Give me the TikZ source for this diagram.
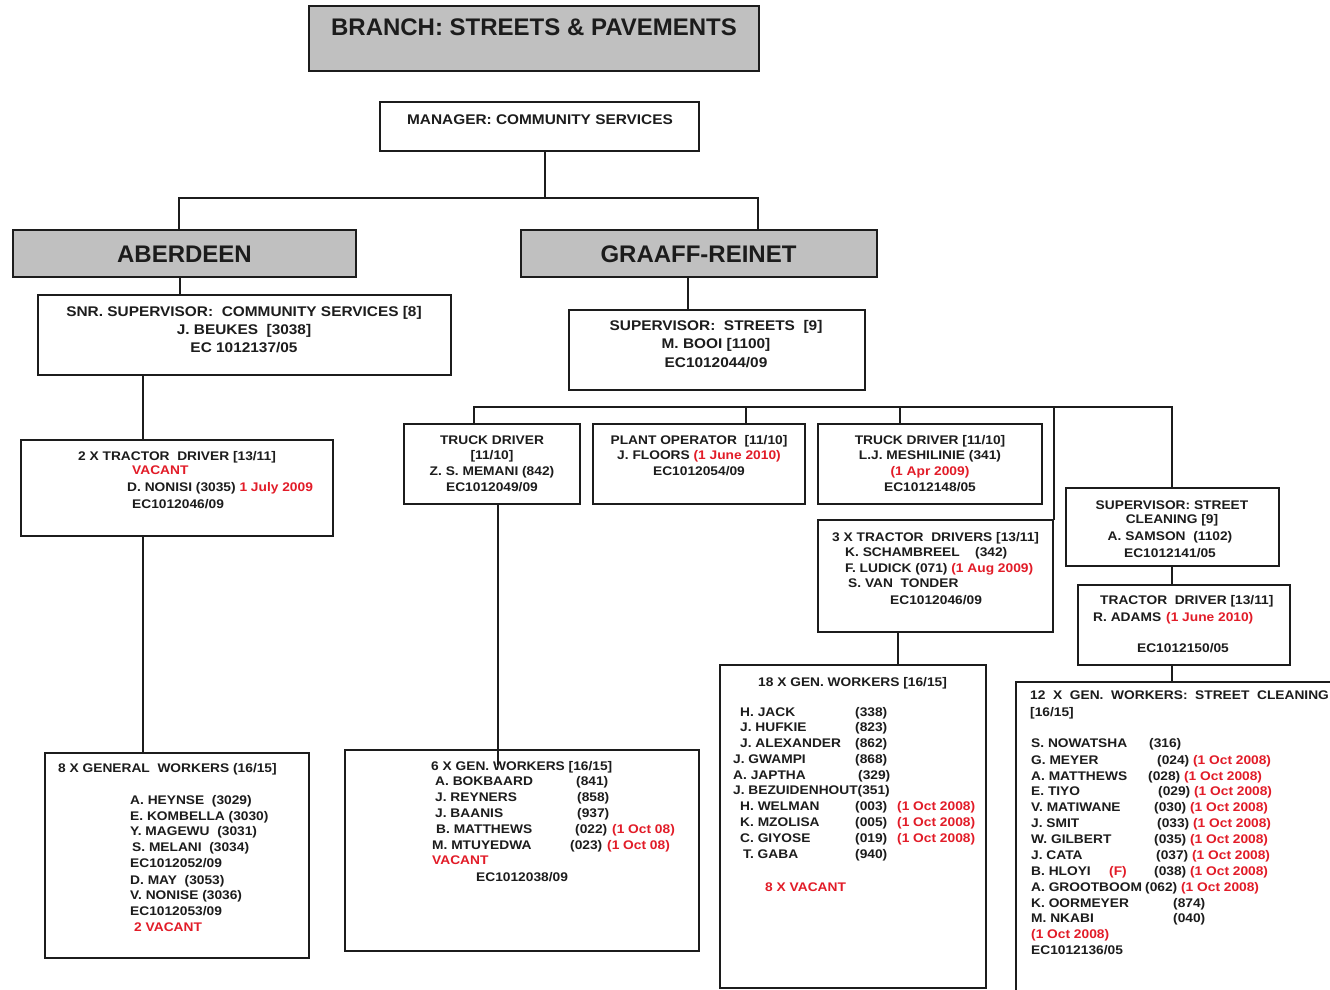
\documentclass[tikz,border=0pt]{standalone}
\usepackage{fontspec}
\setmainfont{Liberation Sans}
\newfontfamily\boxfont{Liberation Sans}[FakeStretch=1.1]
\definecolor{vred}{RGB}{226,28,40}
\definecolor{ink}{RGB}{28,28,28}
\definecolor{panel}{RGB}{192,192,192}

\tikzset{
  box/.style={draw=ink, line width=1.8pt, fill=white, inner sep=0pt, outer sep=0pt},
  headbox/.style={box, fill=panel},
  link/.style={draw=ink, line width=1.8pt},
  txt/.style={inner sep=0pt, anchor=base west, text=ink,
    font=\boxfont\bfseries\fontsize{12.5}{14}\selectfont},
  txtc/.style={txt, anchor=base},
  midtxt/.style={inner sep=0pt, anchor=base, text=ink,
    font=\boxfont\bfseries\fontsize{14}{16}\selectfont},
  bigtxt/.style={inner sep=0pt, anchor=base, text=ink,
    font=\bfseries\fontsize{24}{28}\selectfont},
}

% box from corner (x1,y1) to (x2,y2), y growing downwards
\newcommand\bx[6][box]{\node[#1, minimum width={#5-#3}, minimum height={#6-#4}]
  (#2) at ({(#3+#5)/2},{(#4+#6)/2}) {};}
% text lines: name, x, y of the line's middle, text
\newcommand\tx[4]{\node[txt] (#1) at (#2,{#3+4.5}) {#4};}
\newcommand\tc[4]{\node[txtc] (#1) at (#2,{#3+4.5}) {#4};}
\newcommand\tm[4]{\node[midtxt] (#1) at (#2,{#3+5}) {#4};}
\newcommand\redt[1]{\textcolor{vred}{#1}}
\newcommand\colw[2]{\makebox[#1pt][l]{#2}}

\begin{document}
\begin{tikzpicture}[x=1pt,y=-1pt]
\useasboundingbox (0,0) rectangle (1330,990);
\fill[white] (0,0) rectangle (1330,990);
\clip (0,0) rectangle (1330,990);

% ---------- boxes ----------
\bx[headbox]{title}{309}{6}{759}{71}
\bx{mgr}{380}{102}{699}{151}
\bx[headbox]{aber}{13}{230}{356}{277}
\bx[headbox]{graaff}{521}{230}{877}{277}
\bx{snr}{38}{295}{451}{375}
\bx{sup}{569}{310}{865}{390}
\bx{trA}{21}{440}{333}{536}
\bx{genA}{45}{753}{309}{958}
\bx{truckA}{404}{424}{580}{504}
\bx{plant}{593}{424}{805}{504}
\bx{truckB}{818}{424}{1042}{504}
\bx{trB}{818}{520}{1053}{632}
\bx{supSC}{1066}{488}{1279}{566}
\bx{trSC}{1078}{585}{1290}{665}
\bx{genB}{345}{750}{699}{951}
\bx{genC}{720}{665}{986}{988}
\bx{genSC}{1016}{682}{1360}{1010}

% ---------- connector end points on the boxes ----------
\coordinate (mgrB) at (545,151);
\coordinate (j1) at (545,198);
\coordinate (aberT) at (179,230);
\coordinate (graaffT) at (758,230);
\coordinate (aberB) at (180,277);
\coordinate (snrT) at (180,295);
\coordinate (graaffB) at (688,277);
\coordinate (supT) at (688,310);
\coordinate (snrB) at (143,375);
\coordinate (trAT) at (143,440);
\coordinate (trAB) at (143,536);
\coordinate (genAT) at (143,753);
\coordinate (truckAT) at (474,424);
\coordinate (barR) at (1172,407);
\coordinate (supSCT) at (1172,488);
\coordinate (barP) at (746,407);
\coordinate (plantT) at (746,424);
\coordinate (barT) at (900,407);
\coordinate (truckBT) at (900,424);
\coordinate (barS) at (1054,407);
\coordinate (trBT) at (1054,520);
\coordinate (truckAB) at (498,504);
\coordinate (genBin) at (498,765);
\coordinate (trBB) at (898,632);
\coordinate (genCT) at (898,665);
\coordinate (supSCB) at (1172,566);
\coordinate (trSCT) at (1172,585);
\coordinate (trSCB) at (1172,665);
\coordinate (genSCT) at (1172,682);

% ---------- connectors ----------
\draw[link] (mgrB) -- (j1);
\draw[link] (aberT) |- (j1) -| (graaffT);
\draw[link] (aberB) -- (snrT);
\draw[link] (graaffB) -- (supT);
\draw[link] (snrB) -- (trAT);
\draw[link] (trAB) -- (genAT);
\draw[link] (truckAT) |- (barR) -- (supSCT);
\draw[link] (barP) -- (plantT);
\draw[link] (barT) -- (truckBT);
\draw[link] (barS) -- (trBT);
\draw[link] (truckAB) -- (genBin);
\draw[link] (trBB) -- (genCT);
\draw[link] (supSCB) -- (trSCT);
\draw[link] (trSCB) -- (genSCT);

% ---------- headings ----------
\node[bigtxt] (titleT) at (534,35.6) {BRANCH: STREETS \& PAVEMENTS};
\node[bigtxt] (aberT) at (184.5,262.6) {ABERDEEN};
\node[bigtxt] (graaffT) at (698.5,262.6) {GRAAFF-REINET};
\tm{mgrT}{540}{119}{MANAGER:\ COMMUNITY SERVICES}

% ---------- Aberdeen ----------
\tm{snr1}{244}{311}{SNR. SUPERVISOR:\ \ COMMUNITY SERVICES [8]}
\tm{snr2}{244}{329}{J. BEUKES\ \ [3038]}
\tm{snr3}{244}{347}{EC 1012137/05}

\tx{trA1}{78}{456}{2 X TRACTOR\ \ DRIVER [13/11]}
\tx{trA2}{132}{470}{\redt{VACANT}}
\tx{trA3}{127}{487}{D. NONISI (3035) \redt{1 July 2009}}
\tx{trA4}{132}{504}{EC1012046/09}

\tx{genA1}{58}{768}{8 X GENERAL\ \ WORKERS (16/15]}
\tx{genA2}{130}{800}{A. HEYNSE\ \ (3029)}
\tx{genA3}{130}{816}{E. KOMBELLA (3030)}
\tx{genA4}{130}{831}{Y. MAGEWU\ \ (3031)}
\tx{genA5}{132}{847}{S. MELANI\ \ (3034)}
\tx{genA6}{130}{863}{EC1012052/09}
\tx{genA7}{130}{880}{D. MAY\ \ (3053)}
\tx{genA8}{130}{895}{V. NONISE (3036)}
\tx{genA9}{130}{911}{EC1012053/09}
\tx{genA10}{134}{927}{\redt{2 VACANT}}

% ---------- Graaff-Reinet ----------
\tm{sup1}{716}{325}{SUPERVISOR:\ \ STREETS\ \ [9]}
\tm{sup2}{716}{343}{M. BOOI [1100]}
\tm{sup3}{716}{362}{EC1012044/09}

\tc{truckA1}{492}{440}{TRUCK DRIVER}
\tc{truckA2}{492}{455}{[11/10]}
\tc{truckA3}{492}{471}{Z. S. MEMANI (842)}
\tc{truckA4}{492}{487}{EC1012049/09}

\tc{plant1}{699}{440}{PLANT OPERATOR\ \ [11/10]}
\tc{plant2}{699}{455}{J. FLOORS \redt{(1 June 2010)}}
\tc{plant3}{699}{471}{EC1012054/09}

\tc{truckB1}{930}{440}{TRUCK DRIVER [11/10]}
\tc{truckB2}{930}{455}{L.J. MESHILINIE (341)}
\tc{truckB3}{930}{471}{\redt{(1 Apr 2009)}}
\tc{truckB4}{930}{487}{EC1012148/05}

\tx{trB1}{832}{537}{3 X TRACTOR\ \ DRIVERS [13/11]}
\tx{trB2}{845}{552}{\colw{130}{K. SCHAMBREEL}(342)}
\tx{trB3}{845}{568}{F. LUDICK (071) \redt{(1 Aug 2009)}}
\tx{trB4}{848}{583}{S. VAN\ \ TONDER}
\tx{trB5}{890}{600}{EC1012046/09}

\tc{supSC1}{1172}{505}{SUPERVISOR: STREET}
\tc{supSC2}{1172}{519}{CLEANING [9]}
\tc{supSC3}{1170}{536}{A. SAMSON\ \ (1102)}
\tc{supSC4}{1170}{553}{EC1012141/05}

\tx{trSC1}{1100}{600}{TRACTOR\ \ DRIVER [13/11]}
\tx{trSC2}{1093}{617}{\colw{73}{R. ADAMS}\redt{(1 June 2010)}}
\tc{trSC3}{1183}{648}{EC1012150/05}

\tx{genB1}{431}{766}{6 X GEN. WORKERS [16/15]}
\tx{genB2}{435}{781}{\colw{141}{A. BOKBAARD}(841)}
\tx{genB3}{435}{797}{\colw{142}{J. REYNERS}(858)}
\tx{genB4}{435}{813}{\colw{142}{J. BAANIS}(937)}
\tx{genB5}{436}{829}{\colw{139}{B. MATTHEWS}\colw{37}{(022)}\redt{(1 Oct 08)}}
\tx{genB6}{432}{845}{\colw{138}{M. MTUYEDWA}\colw{37}{(023)}\redt{(1 Oct 08)}}
\tx{genB7}{432}{860}{\redt{VACANT}}
\tx{genB8}{476}{877}{EC1012038/09}

\tx{genC1}{758}{682}{18 X GEN. WORKERS [16/15]}
\tx{genC2}{740}{712}{\colw{115}{H. JACK}(338)}
\tx{genC3}{740}{727}{\colw{115}{J. HUFKIE}(823)}
\tx{genC4}{740}{743}{\colw{115}{J. ALEXANDER}(862)}
\tx{genC5}{733}{759}{\colw{122}{J. GWAMPI}(868)}
\tx{genC6}{733}{775}{\colw{125}{A. JAPTHA}(329)}
\tx{genC7}{733}{790}{J. BEZUIDENHOUT(351)}
\tx{genC8}{740}{806}{\colw{115}{H. WELMAN}\colw{42}{(003)}\redt{(1 Oct 2008)}}
\tx{genC9}{740}{822}{\colw{115}{K. MZOLISA}\colw{42}{(005)}\redt{(1 Oct 2008)}}
\tx{genC10}{740}{838}{\colw{115}{C. GIYOSE}\colw{42}{(019)}\redt{(1 Oct 2008)}}
\tx{genC11}{743}{854}{\colw{112}{T. GABA}(940)}
\tx{genC12}{765}{887}{\redt{8 X VACANT}}

\tx{genSC1}{1030}{695}{12\ \ X\ \ GEN.\ \ WORKERS:\ \ STREET\ \ CLEANING}
\tx{genSC2}{1030}{712}{[16/15]}
\tx{genSC3}{1031}{743}{\colw{118}{S. NOWATSHA}(316)}
\tx{genSC4}{1031}{760}{\colw{126}{G. MEYER}(024) \redt{(1 Oct 2008)}}
\tx{genSC5}{1031}{776}{\colw{117}{A. MATTHEWS}(028) \redt{(1 Oct 2008)}}
\tx{genSC6}{1031}{791}{\colw{127}{E. TIYO}(029) \redt{(1 Oct 2008)}}
\tx{genSC7}{1031}{807}{\colw{123}{V. MATIWANE}(030) \redt{(1 Oct 2008)}}
\tx{genSC8}{1031}{823}{\colw{126}{J. SMIT}(033) \redt{(1 Oct 2008)}}
\tx{genSC9}{1031}{839}{\colw{123}{W. GILBERT}(035) \redt{(1 Oct 2008)}}
\tx{genSC10}{1031}{855}{\colw{125}{J. CATA}(037) \redt{(1 Oct 2008)}}
\tx{genSC11}{1031}{871}{\colw{78}{B. HLOYI}\colw{45}{\redt{(F)}}(038) \redt{(1 Oct 2008)}}
\tx{genSC12}{1031}{887}{\colw{114}{A. GROOTBOOM}(062) \redt{(1 Oct 2008)}}
\tx{genSC13}{1031}{903}{\colw{142}{K. OORMEYER}(874)}
\tx{genSC14}{1031}{918}{\colw{142}{M. NKABI}(040)}
\tx{genSC15}{1031}{934}{\redt{(1 Oct 2008)}}
\tx{genSC16}{1031}{950}{EC1012136/05}
\end{tikzpicture}
\end{document}
